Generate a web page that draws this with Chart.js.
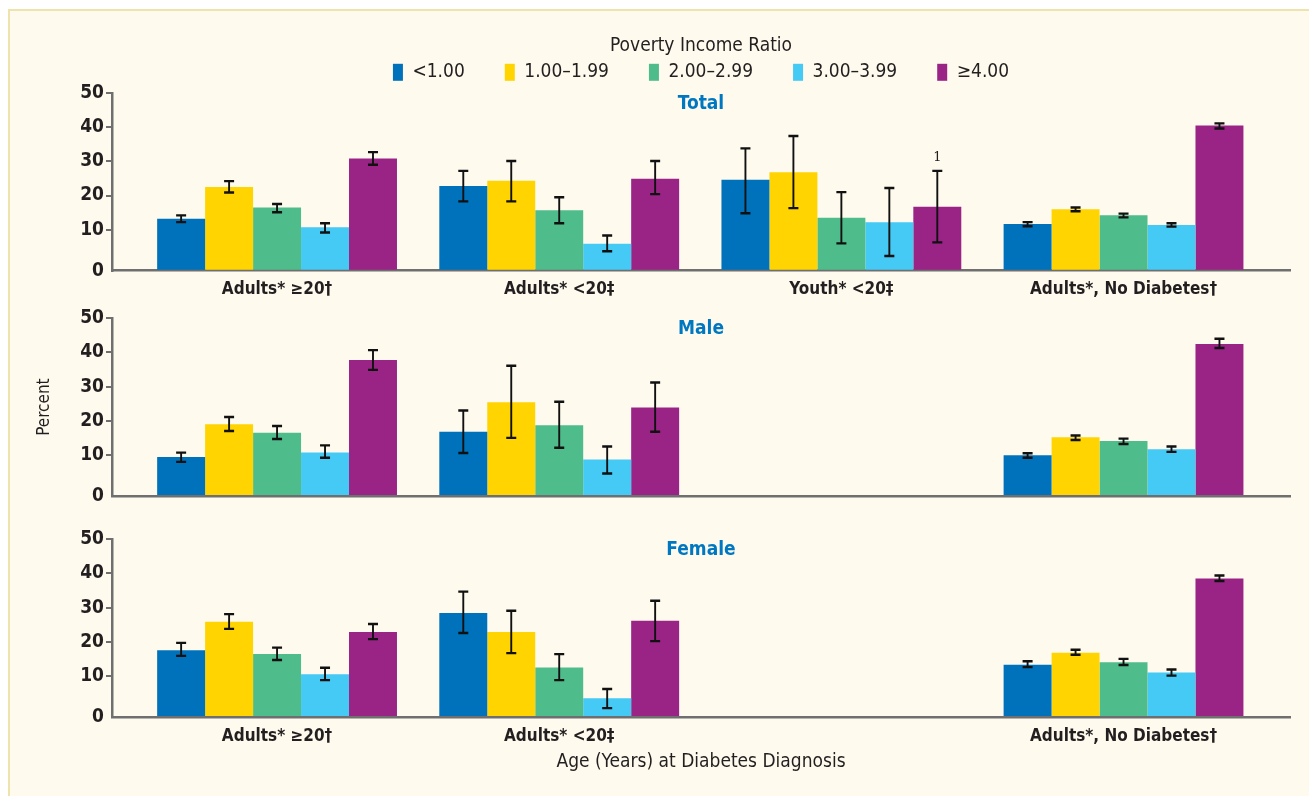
<!DOCTYPE html>
<html>
<head>
<meta charset="utf-8">
<script src="https://cdn.jsdelivr.net/npm/chart.js@4.4.1/dist/chart.umd.min.js"></script>
<style>
  html, body { margin: 0; padding: 0; width: 1309px; height: 796px; overflow: hidden; background: #fff; }
  #frame { position: absolute; left: 8px; top: 9px; width: 1301px; height: 787px; box-sizing: border-box;
           background: #fefbee; border-top: 2px solid #efe3ad; border-left: 2px solid #efe3ad; }
  canvas { position: absolute; left: 0; }
</style>
</head>
<body>
<div id="frame"></div>
<canvas id="total-chart" width="1309" height="300" style="top:0px"></canvas>
<canvas id="male-chart" width="1309" height="220" style="top:300px"></canvas>
<canvas id="female-chart" width="1309" height="276" style="top:520px"></canvas>
<script>
// fonts / colours
const FONT = "'DejaVu Sans Condensed', 'DejaVu Sans', sans-serif";
const INK = '#231f20';
const AXIS_GRAY = '#6f6f6f';
const TITLE_BLUE = '#0078c1';

// legend
const incomeGroups = ['<1.00', '1.00–1.99', '2.00–2.99', '3.00–3.99', '≥4.00'];
const groupColors = ['#0072bb', '#ffd400', '#4fbc8b', '#45c9f5', '#992486'];

// category labels per panel
const totalLabels = ['Adults* ≥20†', 'Adults* <20‡', 'Youth* <20‡', 'Adults*, No Diabetes†'];
const maleLabels = ['', '', '', ''];
const femaleLabels = ['Adults* ≥20†', 'Adults* <20‡', '', 'Adults*, No Diabetes†'];

// y axis: the axis line sits a little under zero, its label still reads 0
const AXIS_FLOOR = -2;
const yTickValues = [10, 20, 30, 40, 50];

// Total: rows = income group, columns = category
const totalPct = [
  [13.2, 22.8, 24.6, 11.7],
  [22.5, 24.3, 26.8, 16.0],
  [16.5, 15.7, 13.5, 14.2],
  [10.7, 5.9, 12.2, 11.4],
  [30.8, 24.9, 16.7, 40.5]
];
const totalLow = [
  [12.2, 18.3, 14.8, 11.0],
  [20.9, 18.3, 16.3, 15.4],
  [15.1, 11.9, 6.0, 13.6],
  [9.2, 3.7, 2.3, 10.9],
  [29.0, 20.4, 6.3, 39.6]
];
const totalHigh = [
  [14.2, 27.2, 33.8, 12.2],
  [24.2, 30.1, 37.4, 16.5],
  [17.5, 19.5, 21.0, 14.7],
  [11.9, 8.3, 22.2, 11.9],
  [32.7, 30.1, 27.2, 41.1]
];

// Male
const malePct = [
  [9.4, 16.8, null, 9.9],
  [19.0, 25.4, null, 15.2],
  [16.5, 18.7, null, 14.1],
  [10.7, 8.7, null, 11.7],
  [37.8, 23.9, null, 42.5]
];
const maleLow = [
  [8.0, 10.6, null, 9.2],
  [17.0, 15.0, null, 14.4],
  [14.7, 12.1, null, 13.2],
  [9.2, 4.6, null, 10.9],
  [34.9, 16.8, null, 41.3]
];
const maleHigh = [
  [10.7, 23.0, null, 10.5],
  [21.1, 36.1, null, 15.7],
  [18.5, 25.6, null, 14.8],
  [12.8, 12.5, null, 12.5],
  [40.7, 31.2, null, 44.0]
];

// Female
const femalePct = [
  [17.5, 28.4, null, 13.3],
  [25.9, 22.9, null, 16.8],
  [16.4, 12.5, null, 14.0],
  [10.5, 3.5, null, 11.0],
  [22.9, 26.2, null, 38.5]
];
const femaleLow = [
  [15.9, 22.6, null, 12.6],
  [23.8, 16.7, null, 16.2],
  [14.7, 8.8, null, 13.2],
  [8.8, 0.6, null, 10.1],
  [20.8, 20.2, null, 37.8]
];
const femaleHigh = [
  [19.7, 34.7, null, 14.3],
  [28.1, 29.1, null, 17.7],
  [18.3, 16.4, null, 15.0],
  [12.4, 6.2, null, 11.9],
  [25.2, 32.0, null, 39.4]
];

// footnote mark over the Youth ≥4.00 bar in Total
const NOTE_TEXT = '1';
const NOTE_SERIES = 4;
const NOTE_CATEGORY = 2;

function makePanel(canvasId, cfg) {
  const datasets = incomeGroups.map((name, g) => ({
    label: name,
    data: cfg.pct[g].map((v, c) => ({ x: c, y: v })).filter(p => p.y !== null),
    backgroundColor: groupColors[g],
    borderWidth: 0,
    base: AXIS_FLOOR,
    categoryPercentage: 0.85,
    barPercentage: 1
  }));

  // error bars (+ optional footnote)
  const errorBars = {
    id: 'errorBars',
    afterDatasetsDraw(chart) {
      const ctx = chart.ctx;
      const yScale = chart.scales.y;
      ctx.save();
      ctx.strokeStyle = '#111';
      chart.data.datasets.forEach((ds, g) => {
        const meta = chart.getDatasetMeta(g);
        meta.data.forEach((bar, j) => {
          const c = meta.controller.getParsed(j).x;
          const lo = cfg.low[g][c];
          const hi = cfg.high[g][c];
          if (lo === null || hi === null) return;
          const x = bar.x;
          const yLo = yScale.getPixelForValue(lo);
          const yHi = yScale.getPixelForValue(hi);
          ctx.lineWidth = 1.9;
          ctx.beginPath();
          ctx.moveTo(x, yLo); ctx.lineTo(x, yHi);
          ctx.stroke();
          ctx.lineWidth = 2.4;
          ctx.beginPath();
          ctx.moveTo(x - 5, yLo); ctx.lineTo(x + 5, yLo);
          ctx.moveTo(x - 5, yHi); ctx.lineTo(x + 5, yHi);
          ctx.stroke();
          if (cfg.note && g === NOTE_SERIES && c === NOTE_CATEGORY) {
            ctx.fillStyle = INK;
            ctx.font = "13px 'DejaVu Serif', serif";
            ctx.textAlign = 'center';
            ctx.textBaseline = 'middle';
            ctx.fillText(NOTE_TEXT, x, yHi - 13);
          }
        });
      });
      ctx.restore();
    }
  };

  // panel title drawn inside the plot, near the top
  const panelTitle = {
    id: 'panelTitle',
    afterDraw(chart) {
      const { left, right, top } = chart.chartArea;
      const ctx = chart.ctx;
      ctx.save();
      ctx.font = 'bold 19px ' + FONT;
      ctx.fillStyle = TITLE_BLUE;
      ctx.textAlign = 'center';
      ctx.textBaseline = 'middle';
      ctx.fillText(cfg.title, (left + right) / 2, top + 11);
      ctx.restore();
    }
  };

  // fixed legend height so the plot top lines up across panels
  const legendHeight = {
    id: 'legendHeight',
    beforeInit(chart) {
      if (!chart.legend) return;
      const fit = chart.legend.fit;
      chart.legend.fit = function () {
        fit.call(this);
        this.height = 83;
      };
    }
  };

  return new Chart(document.getElementById(canvasId), {
    type: 'bar',
    data: { datasets },
    plugins: cfg.legend ? [legendHeight, errorBars, panelTitle] : [errorBars, panelTitle],
    options: {
      responsive: false,
      animation: false,
      layout: { padding: { top: cfg.padTop, right: 19, left: 0, bottom: 0 } },
      plugins: {
        tooltip: { enabled: false },
        legend: {
          display: !!cfg.legend,
          position: 'top',
          align: 'center',
          fullSize: false,
          title: {
            display: true,
            text: 'Poverty Income Ratio',
            color: INK,
            font: { family: FONT, size: 19 },
            padding: { top: 27, bottom: -37 }
          },
          labels: {
            boxWidth: 10,
            boxHeight: 17,
            padding: 40,
            color: INK,
            font: { family: FONT, size: 19 }
          }
        }
      },
      scales: {
        x: {
          type: 'linear',
          offset: false,
          min: -0.585,
          max: 3.59,
          afterBuildTicks: s => { s.ticks = cfg.labels.map((_, i) => ({ value: i })); },
          afterFit: s => { s.height = cfg.xHeight; },
          grid: { display: false, drawTicks: false, offset: false },
          border: { color: AXIS_GRAY, width: 2.5 },
          ticks: {
            display: cfg.labels.some(l => l !== ''),
            autoSkip: false,
            maxRotation: 0,
            padding: 9,
            color: INK,
            font: { family: FONT, size: 17, weight: 'bold' },
            callback: v => cfg.labels[v]
          },
          title: {
            display: !!cfg.xTitle,
            text: cfg.xTitle || '',
            color: INK,
            font: { family: FONT, size: 19 },
            padding: { top: 0, bottom: 23 }
          }
        },
        y: {
          min: AXIS_FLOOR,
          max: 50,
          afterBuildTicks: s => { s.ticks = [AXIS_FLOOR].concat(yTickValues).map(v => ({ value: v })); },
          afterFit: s => { s.width = 112; },
          grid: {
            drawOnChartArea: false,
            drawTicks: true,
            tickLength: 6,
            lineWidth: 2,
            color: c => (c.tick && c.tick.value <= AXIS_FLOOR ? 'rgba(0,0,0,0)' : AXIS_GRAY)
          },
          border: { color: AXIS_GRAY, width: 2.5 },
          ticks: {
            padding: 2,
            color: INK,
            font: { family: FONT, size: 19, weight: 'bold' },
            callback: v => (v <= AXIS_FLOOR ? '0' : v)
          },
          title: {
            display: !!cfg.yTitle,
            text: cfg.yTitle || '',
            color: INK,
            font: { family: FONT, size: 17 },
            padding: { top: 34, bottom: 0 }
          }
        }
      }
    }
  });
}

makePanel('total-chart', {
  title: 'Total', pct: totalPct, low: totalLow, high: totalHigh, labels: totalLabels,
  legend: true, note: true, padTop: 10, xHeight: 29.3
});
makePanel('male-chart', {
  title: 'Male', pct: malePct, low: maleLow, high: maleHigh, labels: maleLabels,
  padTop: 18.3, xHeight: 24, yTitle: 'Percent'
});
makePanel('female-chart', {
  title: 'Female', pct: femalePct, low: femaleLow, high: femaleHigh, labels: femaleLabels,
  padTop: 19.3, xHeight: 79, xTitle: 'Age (Years) at Diabetes Diagnosis'
});
</script>
</body>
</html>
